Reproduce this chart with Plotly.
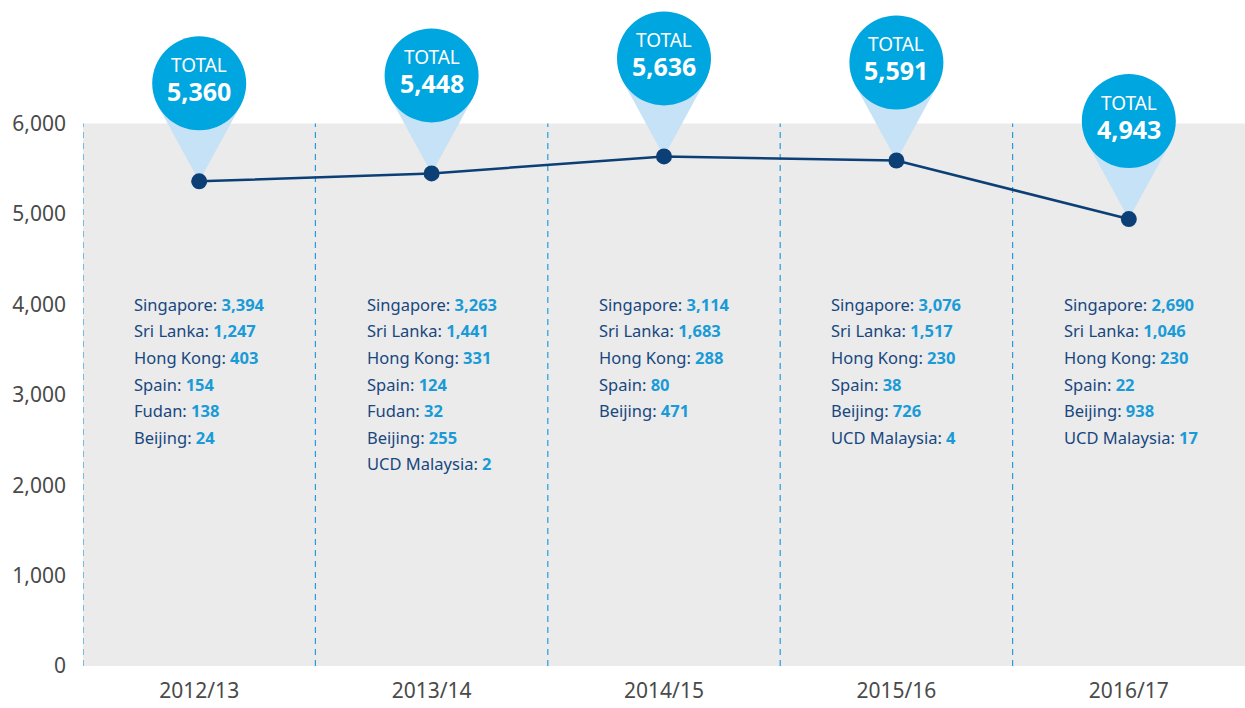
import plotly.graph_objects as go

years = ["2012/13", "2013/14", "2014/15", "2015/16", "2016/17"]
totals = [5360, 5448, 5636, 5591, 4943]

singapore = [3394, 3263, 3114, 3076, 2690]
sri_lanka = [1247, 1441, 1683, 1517, 1046]
hong_kong = [403, 331, 288, 230, 230]
spain = [154, 124, 80, 38, 22]
fudan = [138, 32, None, None, None]
beijing = [24, 255, 471, 726, 938]
ucd_malaysia = [None, 2, None, 4, 17]

campus_names = ["Singapore", "Sri Lanka", "Hong Kong", "Spain", "Fudan", "Beijing", "UCD Malaysia"]
campus_values = [singapore, sri_lanka, hong_kong, spain, fudan, beijing, ucd_malaysia]

y_ticks = [0, 1000, 2000, 3000, 4000, 5000, 6000]
y_tick_text = ["0", "1,000", "2,000", "3,000", "4,000", "5,000", "6,000"]

FONT = "Noto Sans"
NAVY = "#0c3f75"
BLUE = "#00a6e0"
LIGHT = "#c6e2f6"
LABEL = "#17477f"
VALUE = "#1a9bd8"

xs = list(range(len(years)))

fig = go.Figure()
fig.add_trace(go.Scatter(
    x=xs, y=totals, mode="lines+markers",
    line=dict(color=NAVY, width=2.5),
    marker=dict(color=NAVY, size=16),
    hoverinfo="skip", showlegend=False,
))

shapes = []
# gray background band
shapes.append(dict(type="rect", xref="x", yref="y", x0=-0.5, x1=len(years) - 0.5,
                   y0=0, y1=6000, fillcolor="#ebebeb", line=dict(width=0), layer="below"))
# dashed separators
for i in range(len(years)):
    shapes.append(dict(type="line", xref="x", yref="y", x0=i - 0.5, x1=i - 0.5,
                       y0=0, y1=6000, line=dict(color="#259ddd", width=1.2, dash="6px,5px"),
                       layer="below"))

R = 47
D = 98
for i, t in enumerate(totals):
    # cone
    shapes.append(dict(type="path", xref="x", yref="y", xsizemode="pixel", ysizemode="pixel",
                       xanchor=i, yanchor=t,
                       path=f"M 0 0 L -41.5 {D-22} L 0 {D} L 41.5 {D-22} Z",
                       fillcolor=LIGHT, line=dict(width=0), layer="below"))
    # circle
    shapes.append(dict(type="circle", xref="x", yref="y", xsizemode="pixel", ysizemode="pixel",
                       xanchor=i, yanchor=t, x0=-R, x1=R, y0=D - R, y1=D + R,
                       fillcolor=BLUE, line=dict(width=0), layer="below"))

annotations = []
for i, t in enumerate(totals):
    annotations.append(dict(x=i, y=t, xref="x", yref="y", text="TOTAL", showarrow=False,
                            yshift=116, font=dict(family=FONT, size=19, color="white"),
                            xanchor="center", yanchor="middle"))
    annotations.append(dict(x=i, y=t, xref="x", yref="y", text=f"<b>{t:,}</b>", showarrow=False,
                            yshift=90, font=dict(family=FONT, size=25, color="white"),
                            xanchor="center", yanchor="middle"))
    k = 0
    for name, vals in zip(campus_names, campus_values):
        v = vals[i]
        if v is None:
            continue
        txt = (f"<span style='color:{LABEL}'>{name}: </span>"
               f"<b><span style='color:{VALUE}'>{v:,}</span></b>")
        annotations.append(dict(x=i, y=4000, xref="x", yref="y", text=txt, showarrow=False,
                                xanchor="left", yanchor="middle", xshift=-67,
                                yshift=-26.6 * k, font=dict(family=FONT, size=16.5, color=LABEL)))
        k += 1

fig.update_layout(
    width=1245, height=708,
    margin=dict(l=83, r=0, t=0, b=42),
    paper_bgcolor="white", plot_bgcolor="white",
    shapes=shapes, annotations=annotations,
    showlegend=False,
    xaxis=dict(range=[-0.5, len(years) - 0.5], tickmode="array", tickvals=xs, ticktext=years,
               showgrid=False, zeroline=False, showline=False, ticks="",
               tickfont=dict(family=FONT, size=21, color="#4a4a4a"), ticklabelstandoff=10,
               fixedrange=True),
    yaxis=dict(range=[0, 7366], tickmode="array", tickvals=y_ticks, ticktext=y_tick_text,
               showgrid=False, zeroline=False, showline=False, ticks="",
               tickfont=dict(family=FONT, size=21, color="#4a4a4a"), ticklabelstandoff=16,
               fixedrange=True),
)

fig.write_html("out.html", config={"displayModeBar": False})
with open("out.html", encoding="utf-8") as f:
    html = f.read()
html = html.replace("<head>", "<head><style>html,body{margin:0;padding:0;overflow:hidden;}</style>", 1)
with open("out.html", "w", encoding="utf-8") as f:
    f.write(html)
